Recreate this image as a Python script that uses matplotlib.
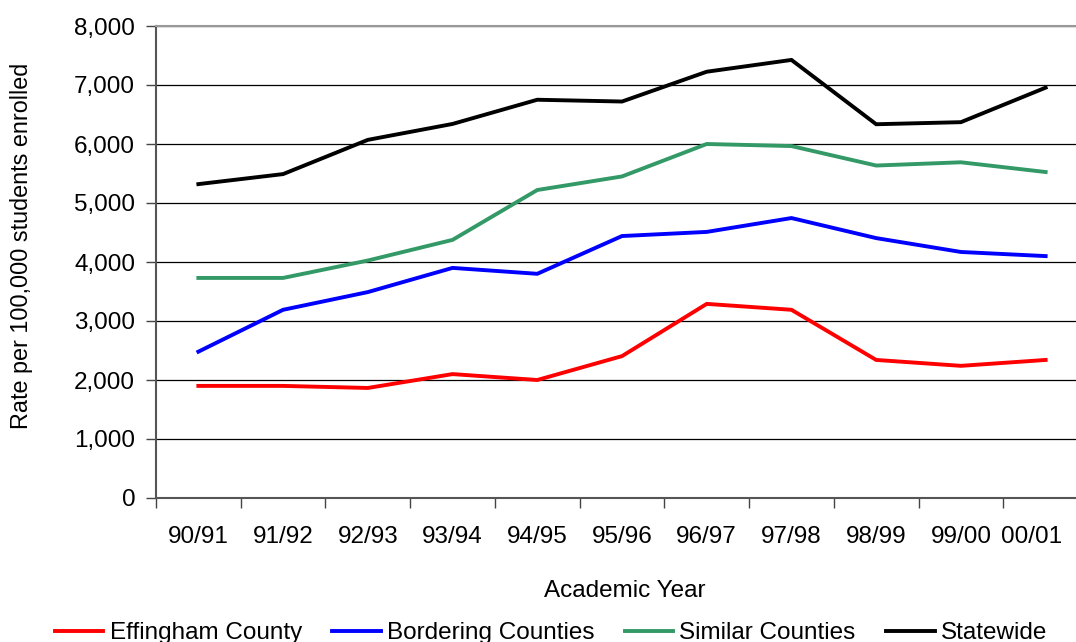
import matplotlib
matplotlib.use("Agg")
import matplotlib.pyplot as plt
import matplotlib.transforms as mtransforms
import numpy as np
from matplotlib.ticker import FuncFormatter, FixedLocator

years = ["90/91", "91/92", "92/93", "93/94", "94/95", "95/96",
         "96/97", "97/98", "98/99", "99/00", "00/01"]
effingham = [1900, 1900, 1865, 2100, 2000, 2405, 3290, 3190, 2340, 2240, 2340]
bordering = [2480, 3190, 3490, 3900, 3800, 4440, 4510, 4745, 4405, 4170, 4100]
similar = [3730, 3730, 4025, 4375, 5220, 5450, 6000, 5965, 5635, 5690, 5525]
statewide = [5320, 5490, 6070, 6340, 6750, 6720, 7225, 7425, 6335, 6370, 6955]

series = [
    ("Effingham County", effingham, "#FF0000"),
    ("Bordering Counties", bordering, "#0000FF"),
    ("Similar Counties", similar, "#339966"),
    ("Statewide", statewide, "#000000"),
]

plt.rcParams['font.family'] = ['Liberation Sans', 'DejaVu Sans']

W, H = 1076, 642
fig = plt.figure(figsize=(W / 100, H / 100), dpi=100)
left, right, bottom, top = 156, 1088, 498, 26
ax = fig.add_axes([left / W, (H - bottom) / H, (right - left) / W, (bottom - top) / H])

x = np.arange(len(years))
for name, vals, col in series:
    ax.plot(x, vals, color=col, lw=2.8, label=name, solid_joinstyle='miter', zorder=3)

ax.set_xlim(-0.5, len(years) - 0.5)
ax.set_ylim(0, 8000)
ax.set_yticks(np.arange(0, 8001, 1000))
ax.yaxis.set_major_formatter(FuncFormatter(lambda v, p: f"{int(v):,}"))
ax.yaxis.grid(True, color="black", lw=0.9)
ax.set_axisbelow(True)

ax.set_xticks(x)
ax.set_xticklabels(years)
ax.xaxis.set_minor_locator(FixedLocator(np.arange(-0.5, len(years), 1.0)))
ax.tick_params(axis='x', which='major', length=0, pad=20, labelsize=17.5)
ax.tick_params(axis='x', which='minor', length=7, width=1, color="#444444", direction='out')
ax.tick_params(axis='y', which='major', length=7, width=1, color="#444444", direction='out',
               labelsize=17.5, pad=8)

# last category label is pulled inside the visible area, as in the reference
last_lbl = ax.get_xticklabels()[-1]
last_lbl.set_transform(last_lbl.get_transform() +
                       mtransforms.ScaledTranslation(-14 / 100, 0, fig.dpi_scale_trans))

for s in ['left', 'bottom']:
    ax.spines[s].set_color("#555555")
    ax.spines[s].set_linewidth(1.5)
ax.spines['top'].set_color("#999999")
ax.spines['top'].set_linewidth(1.5)
ax.spines['right'].set_visible(False)

ax.set_ylabel("Rate per 100,000 students enrolled", fontsize=16.8)
ax.yaxis.set_label_coords((33 - left) / (right - left), (bottom - 246) / (bottom - top))
ax.set_xlabel("Academic Year", fontsize=17.5)
ax.xaxis.set_label_coords((625 - left) / (right - left), -(580 - bottom) / (bottom - top))

fig.legend(loc='center', bbox_to_anchor=(551 / W, (H - 633) / H), ncol=4, frameon=False,
           fontsize=17.5, handlelength=2.0, handletextpad=0.25, columnspacing=1.25,
           borderaxespad=0)

fig.savefig("out.png", dpi=100)
